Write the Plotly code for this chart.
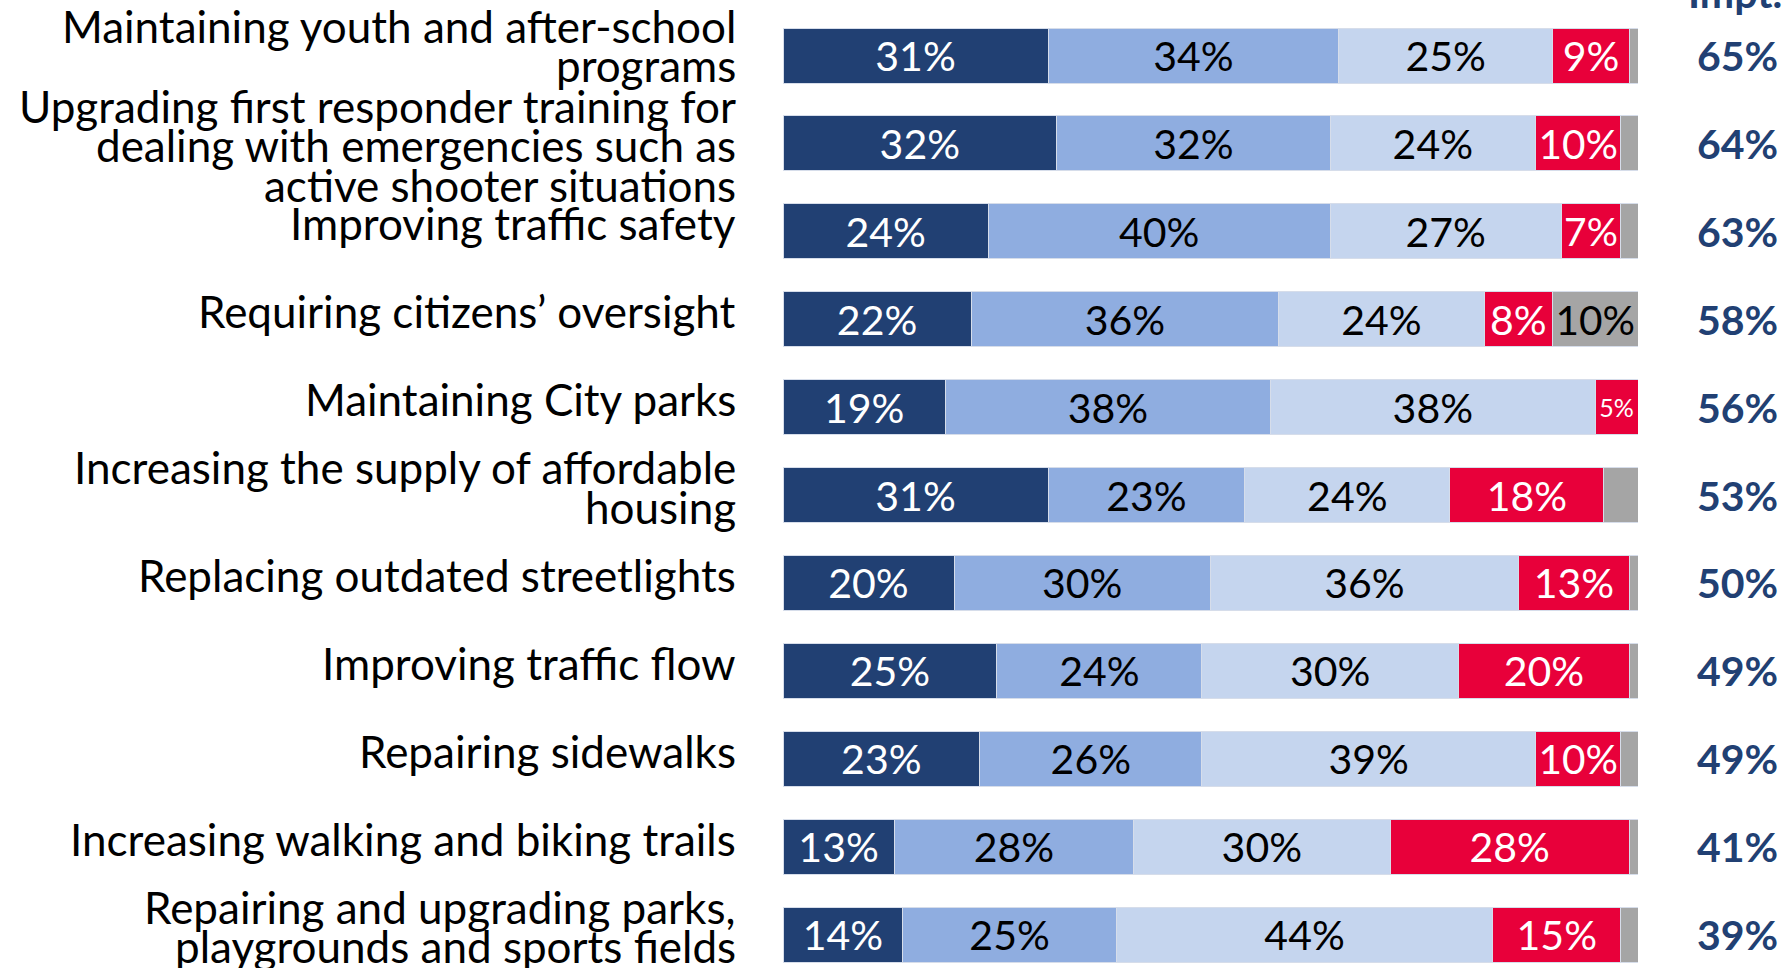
import plotly.graph_objects as go

# ---------------- data ----------------
categories = [
    "Maintaining youth and after-school\nprograms",
    "Upgrading first responder training for\ndealing with emergencies such as\nactive shooter situations",
    "Improving traffic safety",
    "Requiring citizens’ oversight",
    "Maintaining City parks",
    "Increasing the supply of affordable\nhousing",
    "Replacing outdated streetlights",
    "Improving traffic flow",
    "Repairing sidewalks",
    "Increasing walking and biking trails",
    "Repairing and upgrading parks,\nplaygrounds and sports fields",
]
extremely = [31, 32, 24, 22, 19, 31, 20, 25, 23, 13, 14]
very = [34, 32, 40, 36, 38, 23, 30, 24, 26, 28, 25]
somewhat = [25, 24, 27, 24, 38, 24, 36, 30, 39, 30, 44]
not_important = [9, 10, 7, 8, 5, 18, 13, 20, 10, 28, 15]
dont_know = [1, 2, 3, 10, 1, 4, 1, 1, 3, 1, 2]
total_important = [65, 64, 63, 58, 56, 53, 50, 49, 49, 41, 39]
header_text = "Impt."

# ---------------- style ----------------
W, H = 1785, 968
L, R = 783, 1785 - 1638
ROW_PX = 87.9
FIRST_CENTER = 55.5
BAR_PX = 55
FONT = "Lato, 'Open Sans', sans-serif"
NAVY = "#214073"
LABEL_NUDGE_PX = {0: 2, 1: -10}   # vertical fine-tuning of some row labels

series = [
    ("Extremely important", extremely, "#214073", "white"),
    ("Very important", very, "#8FADE0", "black"),
    ("Somewhat important", somewhat, "#C5D5EE", "black"),
    ("Not important", not_important, "#E8003A", "white"),
    ("Don't know", dont_know, "#A5A5A5", "black"),
]

fig = go.Figure()
for idx, (name, vals, color, tcolor) in enumerate(series):
    if idx == 4:
        texts = [f"{v}%" if v >= 6 else "" for v in vals]
    else:
        texts = [f"{v}%" for v in vals]
    sizes = [25 if v < 6 else 41 for v in vals]
    fig.add_trace(go.Bar(
        name=name,
        y=categories,
        x=vals,
        orientation="h",
        marker=dict(color=color, line=dict(color="#D6DDEA", width=1)),
        text=texts,
        textposition="inside",
        insidetextanchor="middle",
        textangle=0,
        textfont=dict(family=FONT, size=sizes, color=tcolor),
        showlegend=False,
    ))

top_idx = -FIRST_CENTER / ROW_PX
bot_idx = (H - FIRST_CENTER) / ROW_PX

annotations = []
LINE_PX = 39.5
for i, cat in enumerate(categories):
    lines = cat.split("\n")
    n = len(lines)
    for j, line in enumerate(lines):
        annotations.append(dict(
            x=0, xref="paper", xanchor="right", xshift=-45,
            y=cat, yref="y", yanchor="middle",
            yshift=8 + LABEL_NUDGE_PX.get(i, 0) - (j - (n - 1) / 2) * LINE_PX,
            text=line, showarrow=False,
            font=dict(family=FONT, size=44, color="black"),
        ))

right_x = 1 + (1737.5 - 1638) / (W - L - R)
for cat, v in zip(categories, total_important):
    annotations.append(dict(
        x=right_x, xref="paper", xanchor="center",
        y=cat, yref="y", yanchor="middle",
        text=f"<b>{v}%</b>", showarrow=False,
        font=dict(family=FONT, size=41, color=NAVY),
    ))

annotations.append(dict(
    x=(1686 - L) / (W - L - R), xref="paper", xanchor="left",
    y=1, yref="paper", yanchor="middle", yshift=8,
    text=f"<b>{header_text}</b>", showarrow=False,
    font=dict(family=FONT, size=41, color=NAVY),
))

fig.update_layout(
    width=W, height=H,
    template="none",
    barmode="stack",
    bargap=1 - BAR_PX / ROW_PX,
    margin=dict(l=L, r=R, t=0, b=0, pad=0),
    paper_bgcolor="white",
    plot_bgcolor="white",
    xaxis=dict(range=[0, 100], visible=False, fixedrange=True, automargin=False),
    yaxis=dict(type="category", categoryarray=categories, categoryorder="array",
               range=[bot_idx, top_idx], showticklabels=False, showgrid=False,
               zeroline=False, showline=False, ticks="", automargin=False),
    annotations=annotations,
    font=dict(family=FONT),
)

fig.write_html(
    "out.html",
    config={"displayModeBar": False},
    post_script="document.body.style.margin='0px';document.body.style.overflow='hidden';",
)
